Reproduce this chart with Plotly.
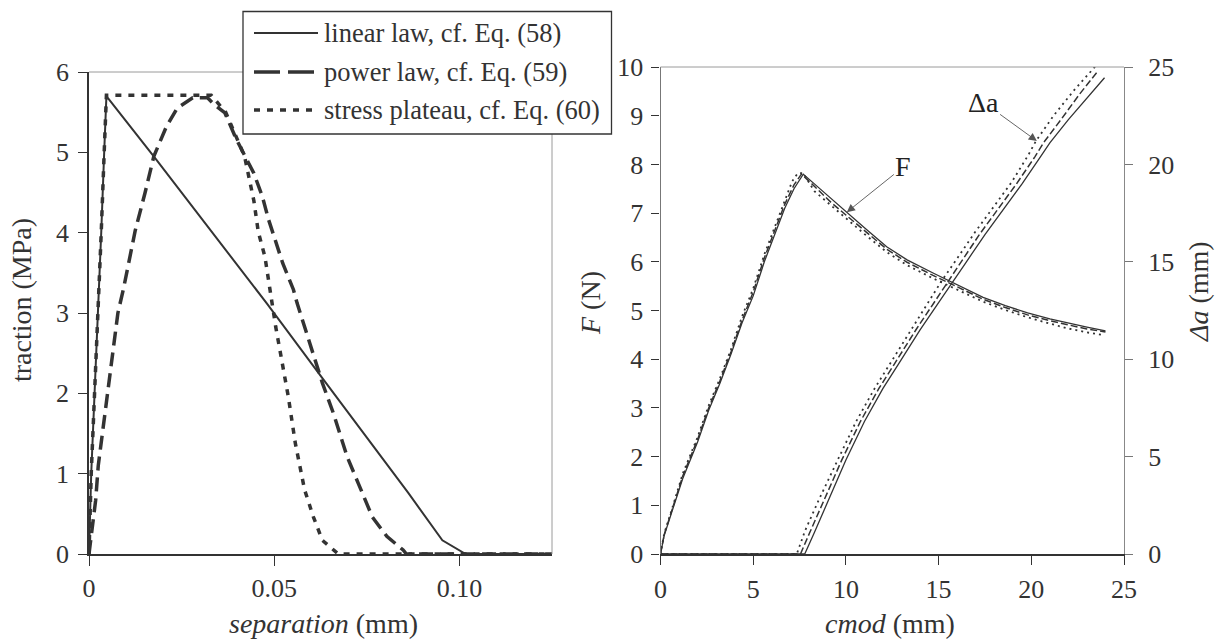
import plotly.graph_objects as go

# ---------------- data: left panel (traction-separation laws) ----------------
legend_names = ["linear law, cf. Eq. (58)", "power law, cf. Eq. (59)", "stress plateau, cf. Eq. (60)"]

sep_linear = [0, 0.0006, 0.0015, 0.0025, 0.0033, 0.0041, 0.0047, 0.0178, 0.048, 0.063, 0.0756, 0.0862, 0.0954, 0.1017, 0.125]
trac_linear = [0, 1.0, 2.0, 3.0, 4.0, 5.0, 5.7, 4.93, 3.12, 2.19, 1.42, 0.76, 0.17, 0.0, 0.0]

sep_power = [0, 0.0018, 0.0025, 0.004, 0.0064, 0.0078, 0.0093, 0.0125, 0.0151, 0.0175, 0.0209, 0.0238,
             0.028, 0.032, 0.0337, 0.0367, 0.0398, 0.0418, 0.0445, 0.0468, 0.0485, 0.0523, 0.0552,
             0.0562, 0.0601, 0.063, 0.066, 0.0697, 0.0727, 0.0765, 0.0804, 0.0848, 0.0857, 0.125]
trac_power = [0, 0.67, 1.1, 1.65, 2.5, 3.0, 3.3, 4.03, 4.49, 4.95, 5.32, 5.55,
              5.68, 5.68, 5.6, 5.49, 5.16, 4.99, 4.74, 4.45, 4.16, 3.62, 3.29,
              3.12, 2.54, 2.13, 1.75, 1.21, 0.88, 0.46, 0.22, 0.05, 0.0, 0.0]

sep_plateau = [0, 0.0006, 0.0015, 0.0025, 0.0033, 0.0041, 0.0047, 0.02, 0.033, 0.0369, 0.04, 0.042,
               0.0445, 0.0457, 0.0475, 0.0504, 0.0538, 0.0557, 0.0582, 0.0606, 0.063, 0.0673, 0.125]
trac_plateau = [0, 1.0, 2.0, 3.0, 4.0, 5.0, 5.71, 5.71, 5.71, 5.5, 5.16, 4.95,
                4.4, 4.01, 3.7, 2.83, 1.96, 1.38, 0.8, 0.46, 0.17, 0.0, 0.0]

# ---------------- data: right panel (F and crack extension vs cmod) ----------------
cmod_F_lin = [0, 0.2, 0.6, 1.2, 2.0, 2.6, 3.2, 3.8, 4.4, 5.0, 5.6, 6.2, 6.7, 7.2, 7.7, 8.3, 9.2, 10.0, 11.0,
              12.2, 13.3, 14.7, 16.2, 17.4, 18.6, 19.8, 21.0, 22.0, 23.0, 24.0]
F_lin = [0, 0.38, 0.85, 1.55, 2.3, 2.95, 3.5, 4.1, 4.75, 5.3, 6.0, 6.6, 7.1, 7.5, 7.8, 7.6, 7.3, 7.02, 6.7,
         6.31, 6.04, 5.77, 5.49, 5.27, 5.1, 4.95, 4.83, 4.74, 4.66, 4.58]

cmod_F_pow = [0, 0.2, 0.6, 1.2, 2.0, 2.6, 3.2, 3.8, 4.4, 5.0, 5.6, 6.2, 6.7, 7.2, 7.6, 8.3, 9.2, 10.0, 11.0,
              12.2, 13.3, 14.7, 16.2, 17.4, 18.6, 19.8, 21.0, 22.0, 23.0, 24.0]
F_pow = [0, 0.4, 0.88, 1.6, 2.35, 3.0, 3.55, 4.15, 4.8, 5.38, 6.08, 6.68, 7.18, 7.58, 7.8, 7.55, 7.22, 6.96, 6.64,
         6.26, 5.99, 5.72, 5.45, 5.23, 5.06, 4.91, 4.79, 4.7, 4.62, 4.56]

cmod_F_pla = [0, 0.2, 0.6, 1.2, 2.0, 2.6, 3.2, 3.8, 4.4, 5.0, 5.6, 6.2, 6.7, 7.1, 7.4, 7.7, 8.3, 9.2, 10.0, 11.0,
              12.2, 13.3, 14.7, 16.2, 17.4, 18.6, 19.8, 21.0, 22.0, 23.0, 23.8]
F_pla = [0, 0.42, 0.9, 1.65, 2.4, 3.05, 3.6, 4.2, 4.88, 5.45, 6.15, 6.75, 7.25, 7.65, 7.82, 7.82, 7.45, 7.15, 6.9, 6.57,
         6.2, 5.93, 5.66, 5.4, 5.18, 5.01, 4.86, 4.73, 4.63, 4.55, 4.5]

cmod_da_lin = [0, 7.78, 8.3, 9.0, 10.0, 11.0, 12.0, 12.8, 14.0, 15.0, 15.7, 16.5, 17.5, 18.5, 19.5, 20.5,
               21.0, 22.0, 23.0, 23.95]
da_lin = [0, 0, 1.1, 2.6, 4.83, 6.8, 8.5, 9.7, 11.5, 12.9, 13.9, 15.0, 16.4, 17.7, 19.0, 20.4,
          21.1, 22.3, 23.4, 24.45]

cmod_da_pow = [0, 7.55, 8.05, 8.75, 9.78, 10.78, 11.78, 12.58, 13.77, 14.75, 15.45, 16.25, 17.2, 18.2, 19.2, 20.2,
               20.65, 21.6, 22.6, 23.6]
da_pow = [0, 0, 1.1, 2.6, 4.83, 6.8, 8.5, 9.7, 11.5, 12.9, 13.9, 15.0, 16.4, 17.7, 19.0, 20.4,
          21.1, 22.3, 23.6, 24.8]

cmod_da_pla = [0, 7.35, 7.8, 8.5, 9.56, 10.55, 11.55, 12.4, 13.55, 14.5, 15.15, 15.95, 16.95, 17.95, 18.95, 19.85,
               20.25, 21.2, 22.3, 23.8]
da_pla = [0, 0, 1.2, 2.7, 4.83, 6.8, 8.5, 9.8, 11.6, 13.0, 14.0, 15.1, 16.5, 17.8, 19.1, 20.5,
          21.2, 22.5, 23.8, 25.4]

left_xticks = [0, 0.05, 0.10]
left_xticktext = ["0", "0.05", "0.10"]

# ---------------- styling ----------------
W, H = 1222, 644
FONT = "Liberation Serif, Times New Roman, serif"
INK = "#333333"
GRAY = "#9a9a9a"


def px_x(p):
    return p / W


def px_y(p):
    return 1 - p / H


# plot areas (pixels)
L_x0, L_x1, L_y0, L_y1 = 89, 552, 72, 554
R_x0, R_x1, R_y0, R_y1 = 660.5, 1124, 67, 554

fig = go.Figure()

left_styles = [
    dict(color=INK, width=2, dash="solid"),
    dict(color=INK, width=3.5, dash="14px,7px"),
    dict(color=INK, width=3.5, dash="6px,7px"),
]
left_data = [(sep_linear, trac_linear), (sep_power, trac_power), (sep_plateau, trac_plateau)]
for (xs, ys), st, nm in zip(left_data, left_styles, legend_names):
    fig.add_trace(go.Scatter(x=xs, y=ys, mode="lines", name=nm, line=st,
                             xaxis="x", yaxis="y", showlegend=False))

right_styles = [
    dict(color=INK, width=1.3, dash="solid"),
    dict(color=INK, width=1.5, dash="7px,3px"),
    dict(color=INK, width=1.8, dash="2px,4px"),
]
F_data = [(cmod_F_lin, F_lin), (cmod_F_pow, F_pow), (cmod_F_pla, F_pla)]
da_data = [(cmod_da_lin, da_lin), (cmod_da_pow, da_pow), (cmod_da_pla, da_pla)]
for (xs, ys), st, nm in zip(F_data, right_styles, legend_names):
    fig.add_trace(go.Scatter(x=xs, y=ys, mode="lines", name="F " + nm, line=st,
                             xaxis="x2", yaxis="y2", showlegend=False))
for (xs, ys), st, nm in zip(da_data, right_styles, legend_names):
    fig.add_trace(go.Scatter(x=xs, y=ys, mode="lines", name="Δa " + nm, line=st,
                             xaxis="x2", yaxis="y3", showlegend=False))

tickfont = dict(family=FONT, size=26, color=INK)
common = dict(showgrid=False, zeroline=False, showline=True, ticks="outside",
              tickfont=tickfont, tickcolor=INK, automargin=False)

fig.update_layout(
    template="none",
    width=W, height=H, margin=dict(l=0, r=0, t=0, b=0, pad=0),
    paper_bgcolor="white", plot_bgcolor="white",
    showlegend=False,
    xaxis=dict(domain=[px_x(L_x0), px_x(L_x1)], range=[0, 0.125], tickvals=left_xticks,
               ticktext=left_xticktext, ticklen=10, linecolor=INK, linewidth=1.5,
               anchor="y", ticklabelstandoff=0, **common),
    yaxis=dict(domain=[px_y(L_y1), px_y(L_y0)], range=[0, 6], dtick=1, ticklen=9,
               linecolor=INK, linewidth=1.5, anchor="x", ticklabelstandoff=4, **common),
    xaxis2=dict(domain=[px_x(R_x0), px_x(R_x1)], range=[0, 25], dtick=5, ticklen=9,
                linecolor=INK, linewidth=1.5, anchor="y2", ticklabelstandoff=2, **common),
    yaxis2=dict(domain=[px_y(R_y1), px_y(R_y0)], range=[0, 10], dtick=1, ticklen=8,
                linecolor="#777777", linewidth=1.2, anchor="x2", ticklabelstandoff=3, **common),
    yaxis3=dict(overlaying="y2", side="right", range=[0, 25], dtick=5, ticklen=8,
                linecolor="#888888", linewidth=1.2, anchor="x2", ticklabelstandoff=10,
                tickcolor="#777777", showgrid=False, zeroline=False, showline=True,
                ticks="outside", tickfont=tickfont, automargin=False),
    yaxis4=dict(overlaying="y2", side="right", range=[0, 25], dtick=5, ticklen=8,
                anchor="x2", tickcolor="#777777", showgrid=False, zeroline=False,
                showline=False, ticks="inside", showticklabels=False, automargin=False),
)

# frame lines (top and right) of the left panel, top of the right panel
shapes = [
    dict(type="line", xref="paper", yref="paper", x0=px_x(L_x0), x1=px_x(L_x1), y0=px_y(L_y0), y1=px_y(L_y0),
         line=dict(color=GRAY, width=1)),
    dict(type="line", xref="paper", yref="paper", x0=px_x(L_x1), x1=px_x(L_x1), y0=px_y(L_y0), y1=px_y(L_y1),
         line=dict(color=GRAY, width=1)),
    dict(type="line", xref="paper", yref="paper", x0=px_x(R_x0), x1=px_x(R_x1), y0=px_y(R_y0), y1=px_y(R_y0),
         line=dict(color=GRAY, width=1)),
]

# custom legend box
LEG_x0, LEG_x1, LEG_y0, LEG_y1 = 243, 611.5, 11.5, 134
shapes.append(dict(type="rect", xref="paper", yref="paper", x0=px_x(LEG_x0), x1=px_x(LEG_x1),
                   y0=px_y(LEG_y1), y1=px_y(LEG_y0), fillcolor="white",
                   line=dict(color=INK, width=1.3), layer="above"))
legend_rows = [33, 72, 110]
legend_sample_dash = ["solid", "26px,8px", "6px,7px"]
legend_annots = []
for row, st, dsh, nm in zip(legend_rows, left_styles, legend_sample_dash, legend_names):
    shapes.append(dict(type="line", xref="paper", yref="paper", x0=px_x(254), x1=px_x(318),
                       y0=px_y(row), y1=px_y(row), layer="above",
                       line=dict(color=INK, width=st["width"], dash=dsh)))
    legend_annots.append(dict(xref="paper", yref="paper", x=px_x(322), y=px_y(row), text=nm,
                              showarrow=False, xanchor="left", yanchor="middle",
                              font=dict(family=FONT, size=26.5, color=INK)))
fig.update_layout(shapes=shapes)

title_font = dict(family=FONT, size=28, color=INK)
annots = legend_annots + [
    dict(xref="paper", yref="paper", x=px_x(21), y=px_y(300), text="traction (MPa)", textangle=-90,
         showarrow=False, font=title_font, xanchor="center", yanchor="middle"),
    dict(xref="paper", yref="paper", x=px_x(323), y=px_y(623), text="<i>separation</i> (mm)",
         showarrow=False, font=title_font, xanchor="center", yanchor="middle"),
    dict(xref="paper", yref="paper", x=px_x(890), y=px_y(623), text="<i>cmod</i> (mm)",
         showarrow=False, font=title_font, xanchor="center", yanchor="middle"),
    dict(xref="paper", yref="paper", x=px_x(590), y=px_y(303), text="<i>F</i> (N)", textangle=-90,
         showarrow=False, font=title_font, xanchor="center", yanchor="middle"),
    dict(xref="paper", yref="paper", x=px_x(1198), y=px_y(292), text="<i>Δa</i> (mm)", textangle=-90,
         showarrow=False, font=title_font, xanchor="center", yanchor="middle"),
    dict(xref="x2", yref="y2", x=10.05, y=7.02, ax=13.1, ay=7.95, axref="x2", ayref="y2",
         text="F", showarrow=True, arrowhead=2, arrowsize=1.8, arrowwidth=0.9, arrowcolor="#555555",
         font=dict(family=FONT, size=28, color="#222222")),
    dict(xref="x2", yref="y3", x=20.3, y=21.2, ax=17.4, ay=23.2, axref="x2", ayref="y3",
         text="Δa", showarrow=True, arrowhead=2, arrowsize=1.8, arrowwidth=0.9, arrowcolor="#555555",
         font=dict(family=FONT, size=28, color="#222222")),
]
fig.update_layout(annotations=annots)

fig.write_html("out.html")
